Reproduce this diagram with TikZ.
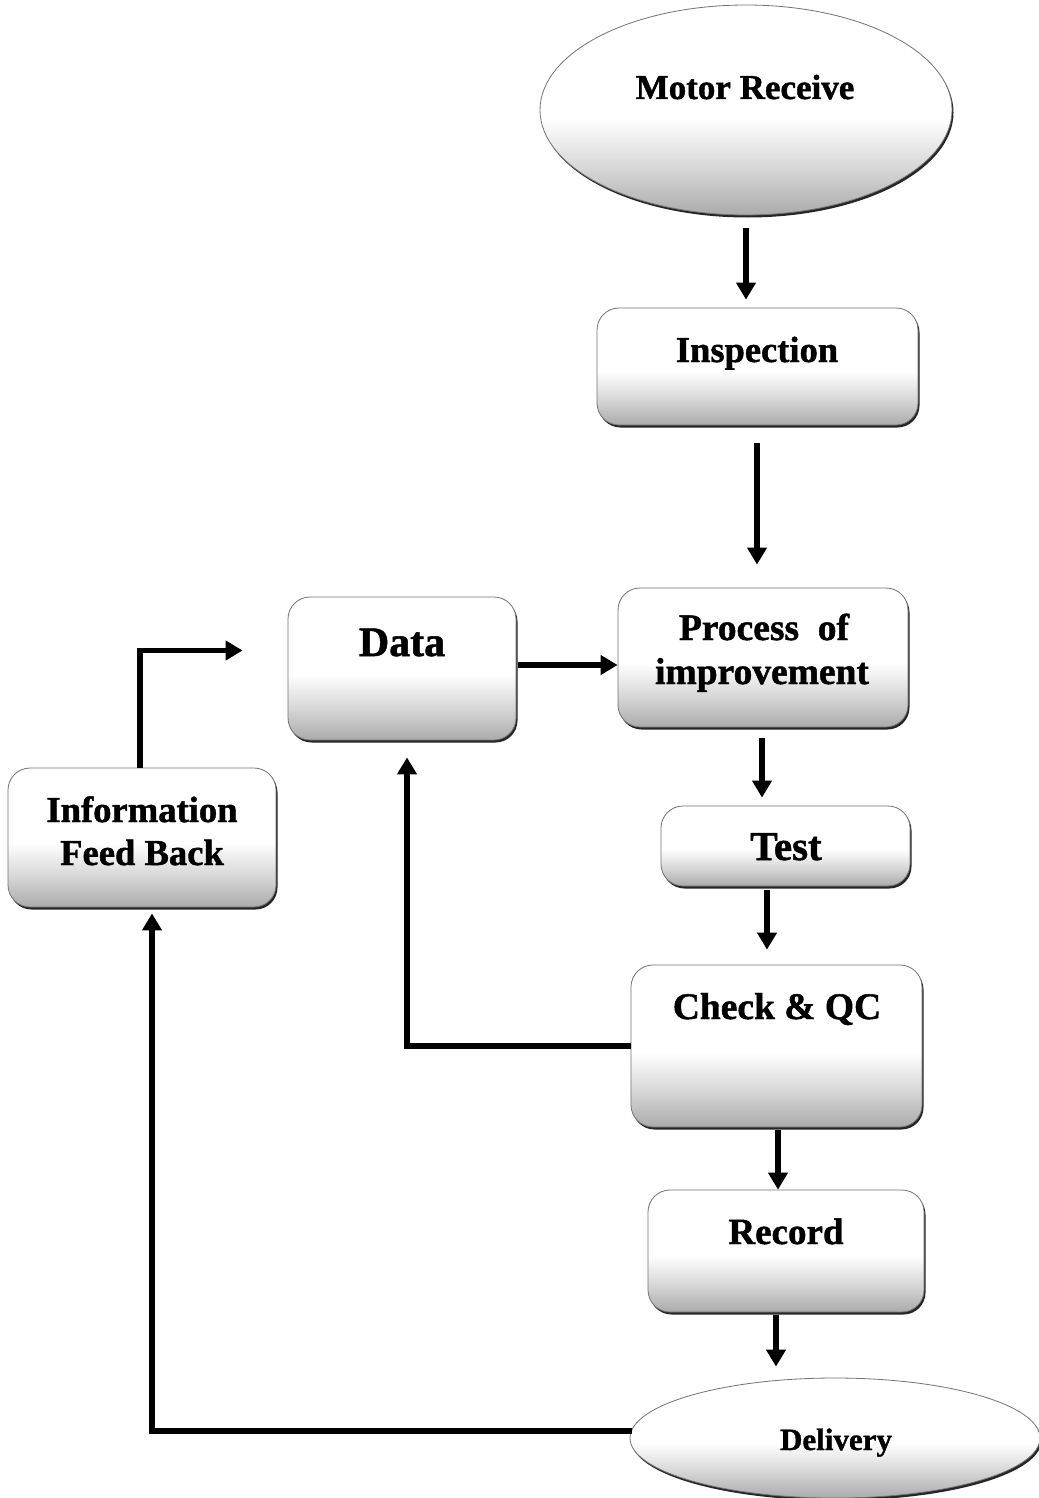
\documentclass[tikz,border=0pt]{standalone}
\usepackage{fontspec}
\setmainfont{Liberation Serif}[BoldFeatures={FakeBold=1.2}]
\usetikzlibrary{shapes.geometric,shadows,calc,arrows.meta}
\pgfdeclareverticalshading{softgray}{100bp}{color(0bp)=(black!36); color(25bp)=(black!33); color(36bp)=(black!16); color(48bp)=(white); color(100bp)=(white)}
\begin{document}
\begin{tikzpicture}[x=1pt,y=-1pt,
  box/.style={rectangle, rounded corners=22pt, draw=black!55, line width=0.8pt,
    shading=softgray, inner sep=0pt,
    general shadow={fill=black!85, shadow xshift=1.5pt, shadow yshift=-2.5pt}},
  oval/.style={ellipse, draw=black!55, line width=0.8pt, shading=softgray, inner sep=0pt,
    general shadow={fill=black!85, shadow xshift=1.5pt, shadow yshift=-2.5pt}},
  lbl/.style={font=\bfseries\fontsize{#1}{43}\selectfont, align=center, inner sep=0pt, anchor=base},
  lbl/.default=37,
  arr/.style={line width=5.5pt, -{Triangle[length=17pt,width=19pt]}}
]
\useasboundingbox (0,0) rectangle (1038,1498);
\fill[white] (0,0) rectangle (1038,1498);

% shapes
\node[oval, minimum width=412pt, minimum height=210pt] (motor) at (746,110) {};
\node[box, minimum width=321pt, minimum height=117pt] (insp) at (757.5,366.5) {};
\node[box, minimum width=290pt, minimum height=139pt] (proc) at (763,657.5) {};
\node[box, minimum width=228pt, minimum height=143pt] (data) at (402,668.5) {};
\node[box, minimum width=268pt, minimum height=139pt] (info) at (142,837.5) {};
\node[box, minimum width=249pt, minimum height=80pt] (test) at (785.5,846) {};
\node[box, minimum width=291pt, minimum height=162pt] (check) at (776.5,1046) {};
\node[box, minimum width=276pt, minimum height=122pt] (record) at (786,1251) {};
\node[oval, minimum width=410pt, minimum height=120pt] (delivery) at (835,1438) {};

% labels
\node[lbl=35] (tmotor) at (745,99) {Motor Receive};
\node[lbl=36.5] (tinsp) at (757,362) {Inspection};
\node[lbl=37.5] (tproc1) at (764,640) {Process\ \ of};
\node[lbl=37.5] (tproc2) at (762,684) {improvement};
\node[lbl=42] (tdata) at (402,656) {Data};
\node[lbl=36.6] (tinfo1) at (142,822) {Information};
\node[lbl=36.6] (tinfo2) at (142,865) {Feed Back};
\node[lbl=41] (ttest) at (786,860) {Test};
\node[lbl=37.5] (tcheck) at (777,1019) {Check \& QC};
\node[lbl=37] (trecord) at (786,1244) {Record};
\node[lbl=31] (tdeliv) at (836,1450) {Delivery};

% connectors
\coordinate (a1) at ($(motor.south)+(0,13)$);
\draw[arr] (a1) -- ($(a1 |- insp.north)+(0,-8)$);
\coordinate (a2) at ($(insp.south)+(-0.5,18)$);
\draw[arr] (a2) -- ($(a2 |- proc.north)+(0,-23)$);
\coordinate (a3) at ($(data.east)+(2,-3.5)$);
\draw[arr] (a3) -- (a3 -| proc.west);
\draw[arr] ($(info.north)+(-2,0)$) |- ($(data.west)+(-45,-18)$);
\coordinate (a5) at ($(proc.south)+(-1,11)$);
\draw[arr] (a5) -- ($(a5 |- test.north)+(0,-8)$);
\coordinate (a6) at ($(test.south)+(-18.5,4)$);
\draw[arr] (a6) -- ($(a6 |- check.north)+(0,-15)$);
\draw[arr] (check.west) -| ($(data.south)+(5,17)$);
\coordinate (a8) at ($(check.south)+(1.5,3)$);
\draw[arr] (a8) -- (a8 |- record.north);
\coordinate (a9) at ($(record.south)+(-10,3)$);
\draw[arr] (a9) -- ($(a9 |- delivery.north)+(0,-11)$);
\draw[arr] ($(delivery.west)+(2,-7)$) -| ($(info.south)+(10,6)$);
\end{tikzpicture}
\end{document}
